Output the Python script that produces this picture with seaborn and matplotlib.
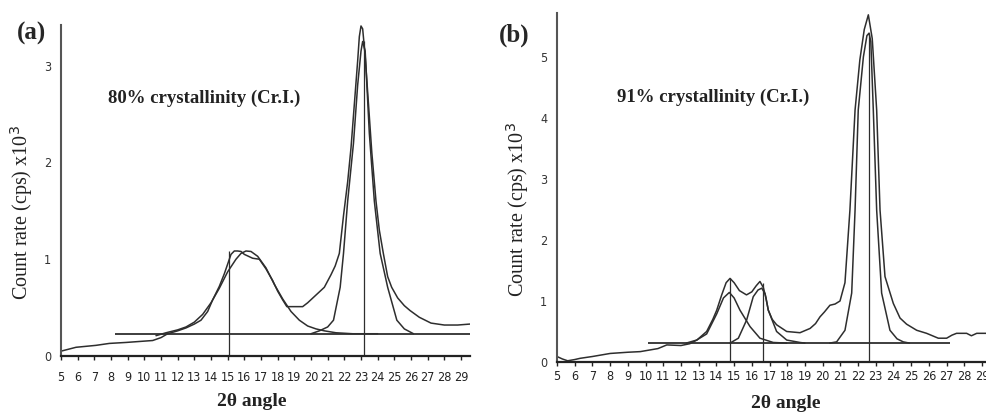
import matplotlib
matplotlib.use("Agg")
import matplotlib.pyplot as plt
import seaborn as sns

# ---- panel (a) : 80% crystallinity ----
a_x = [5.0, 5.9, 7.1, 7.9, 8.9, 10.5, 11.0, 11.4, 12.0, 12.5, 13.0, 13.4, 13.8,
       14.1, 14.5, 14.8, 15.0, 15.2, 15.4, 15.6, 15.8, 16.0, 16.5, 16.9, 17.3,
       17.7, 18.0, 18.3, 18.55, 19.0, 19.5, 19.8, 20.3, 20.8, 21.2, 21.45, 21.7,
       21.95, 22.2, 22.4, 22.6, 22.8, 22.9, 23.0, 23.1, 23.25, 23.45, 23.65,
       23.9, 24.1, 24.34, 24.6, 24.84, 25.2, 25.6, 25.94, 26.5, 27.2, 28.0,
       28.8, 29.54]
a_total = [0.05, 0.09, 0.11, 0.13, 0.14, 0.16, 0.19, 0.23, 0.26, 0.29, 0.33,
           0.37, 0.46, 0.58, 0.72, 0.85, 0.95, 1.05, 1.085, 1.085, 1.08, 1.05,
           1.01, 1.0, 0.9, 0.78, 0.67, 0.58, 0.51, 0.51, 0.51, 0.55, 0.63,
           0.71, 0.84, 0.93, 1.06, 1.45, 1.8, 2.15, 2.6, 3.05, 3.3, 3.41, 3.38,
           3.1, 2.6, 2.1, 1.6, 1.3, 1.06, 0.82, 0.71, 0.6, 0.52, 0.47, 0.4,
           0.34, 0.32, 0.32, 0.33]

a_fit1_x = [10.7, 11.3, 12.0, 12.5, 13.0, 13.5, 14.0, 14.5, 15.0, 15.5, 15.8,
            16.1, 16.4, 16.8, 17.3, 17.8, 18.3, 18.8, 19.3, 19.8, 20.3, 20.8,
            21.5, 22.5, 24.0]
a_fit1 = [0.21, 0.24, 0.27, 0.3, 0.35, 0.43, 0.55, 0.7, 0.87, 1.0, 1.06, 1.085,
          1.08, 1.03, 0.91, 0.74, 0.59, 0.46, 0.37, 0.31, 0.28, 0.26, 0.24,
          0.23, 0.23]

a_fit2_x = [20.0, 20.5, 21.0, 21.35, 21.75, 21.95, 22.2, 22.55, 22.8, 23.0,
            23.1, 23.25, 23.5, 23.8, 24.15, 24.6, 25.15, 25.6, 26.15]
a_fit2 = [0.23, 0.26, 0.3, 0.37, 0.71, 1.06, 1.6, 2.2, 2.8, 3.15, 3.25, 3.15,
          2.3, 1.6, 1.06, 0.71, 0.37, 0.28, 0.23]

a_base = [8.24, 29.54, 0.23]          # x start, x end, level
a_peak_x = [15.08, 23.2]
a_peak_top = [1.085, 3.25]

# ---- panel (b) : 91% crystallinity ----
b_x = [5.0, 5.3, 5.6, 6.0, 6.3, 7.0, 8.0, 9.0, 9.7, 10.3, 10.7, 11.2, 12.0,
       12.5, 12.9, 13.45, 13.8, 14.02, 14.3, 14.55, 14.77, 15.0, 15.3, 15.7,
       16.0, 16.25, 16.46, 16.65, 16.8, 16.93, 17.15, 17.4, 17.97, 18.72,
       19.29, 19.6, 19.85, 20.1, 20.41, 20.7, 20.98, 21.26, 21.54, 21.83,
       22.1, 22.35, 22.58, 22.8, 23.05, 23.24, 23.52, 23.99, 24.37, 24.74,
       25.31, 25.87, 26.53, 27.0, 27.3, 27.56, 28.13, 28.4, 28.7, 29.3]
b_total = [0.09, 0.05, 0.02, 0.04, 0.06, 0.09, 0.14, 0.16, 0.17, 0.2, 0.22,
           0.28, 0.27, 0.3, 0.36, 0.5, 0.7, 0.85, 1.1, 1.3, 1.37, 1.3, 1.17,
           1.1, 1.15, 1.25, 1.32, 1.22, 1.05, 0.85, 0.7, 0.61, 0.5, 0.48,
           0.55, 0.63, 0.74, 0.82, 0.93, 0.95, 1.0, 1.3, 2.49, 4.13, 4.95,
           5.45, 5.69, 5.3, 4.13, 2.49, 1.4, 0.96, 0.72, 0.62, 0.52, 0.47,
           0.39, 0.39, 0.44, 0.47, 0.47, 0.43, 0.47, 0.47]

b_fitA_x = [12.3, 12.89, 13.45, 14.02, 14.4, 14.73, 15.0, 15.33, 15.9, 16.46,
            17.21, 17.97]
b_fitA = [0.31, 0.36, 0.46, 0.79, 1.05, 1.14, 1.05, 0.85, 0.58, 0.39, 0.32,
          0.31]

b_fitB_x = [14.77, 15.24, 15.71, 16.08, 16.35, 16.56, 16.75, 16.93, 17.4,
            17.97, 18.72, 19.0]
b_fitB = [0.31, 0.39, 0.69, 1.07, 1.18, 1.21, 1.12, 0.85, 0.5, 0.36, 0.32,
          0.31]

b_fitC_x = [20.4, 20.79, 21.26, 21.64, 21.83, 22.01, 22.3, 22.5, 22.62, 22.72,
            22.86, 23.05, 23.33, 23.8, 24.2, 24.55, 24.9]
b_fitC = [0.31, 0.33, 0.52, 1.13, 2.49, 4.13, 5.0, 5.35, 5.39, 5.25, 4.13,
          2.49, 1.13, 0.52, 0.38, 0.33, 0.31]

b_base = [10.14, 27.17, 0.31]
b_peak_x = [14.77, 16.65, 22.63]
b_peak_top = [1.37, 1.3, 5.39]

x_ticks = list(range(5, 30))
a_yticks = [0, 1, 2, 3]
b_yticks = [0, 1, 2, 3, 4, 5]

sns.set_style("ticks")
serif = ["Liberation Serif", "DejaVu Serif"]
ink = "#2e2e2e"
tick_font = dict(family="DejaVu Sans", stretch="condensed", fontsize=9)

fig = plt.figure(figsize=(9.87, 4.19), dpi=100)
ax1 = fig.add_axes([61 / 987, 63 / 419, 409 / 987, 331 / 419])
ax2 = fig.add_axes([557 / 987, 57 / 419, 430 / 987, 349 / 419])


def draw(ax, curves, base, peak_x, peak_top, yticks, xlim, ylim, note, note_xy,
         pad):
    for cx, cy in curves:
        sns.lineplot(x=cx, y=cy, ax=ax, color=ink, linewidth=1.1,
                     estimator=None, sort=False)
    ax.hlines(base[2], base[0], base[1], color=ink, linewidth=1.3)
    ax.vlines(peak_x, 0, peak_top, color=ink, linewidth=0.9)
    ax.set_xlim(*xlim)
    ax.set_ylim(*ylim)
    ax.set_xticks(x_ticks)
    ax.set_yticks(yticks)
    ax.set_xticklabels([str(t) for t in x_ticks], **tick_font)
    ax.set_yticklabels([str(t) for t in yticks], **tick_font)
    ax.tick_params(axis="x", length=3, width=1, pad=pad, colors="#222222")
    ax.tick_params(axis="y", length=0, pad=7, colors="#333333")
    sns.despine(ax=ax)
    ax.spines["left"].set_color("#555555")
    ax.spines["left"].set_linewidth(1.5)
    ax.spines["bottom"].set_color("#222222")
    ax.spines["bottom"].set_linewidth(1.6)
    ax.set_ylabel("Count rate (cps) x10$^3$", family=serif, fontsize=14.5,
                  color="#222222")
    ax.set_xlabel("2θ angle", family=serif, fontsize=14, fontweight="bold",
                  color="#222222", va="top")
    ax.text(note_xy[0], note_xy[1], note, family=serif, fontsize=13.5,
            fontweight="bold", ha="center", va="center", color="#222222")


draw(ax1, [(a_x, a_total), (a_fit1_x, a_fit1), (a_fit2_x, a_fit2)],
     a_base, a_peak_x, a_peak_top, a_yticks, (5, 29.54), (0, 3.42),
     "80% crystallinity (Cr.I.)", (13.58, 2.66), 8)
draw(ax2, [(b_x, b_total), (b_fitA_x, b_fitA), (b_fitB_x, b_fitB),
           (b_fitC_x, b_fitC)],
     b_base, b_peak_x, b_peak_top, b_yticks, (5, 29.28), (0, 5.72),
     "91% crystallinity (Cr.I.)", (13.8, 4.33), 3)

ax1.xaxis.set_label_coords(0.467, -0.112)
ax1.yaxis.set_label_coords(-0.064, 0.432)
ax2.xaxis.set_label_coords(0.533, -0.095)
ax2.yaxis.set_label_coords(-0.06, 0.436)

fig.text(0.032, 0.921, "(a)", family=serif, fontsize=18, fontweight="bold",
         ha="center", va="center")
fig.text(0.521, 0.916, "(b)", family=serif, fontsize=18, fontweight="bold",
         ha="center", va="center")

fig.savefig("out.png", dpi=100)
